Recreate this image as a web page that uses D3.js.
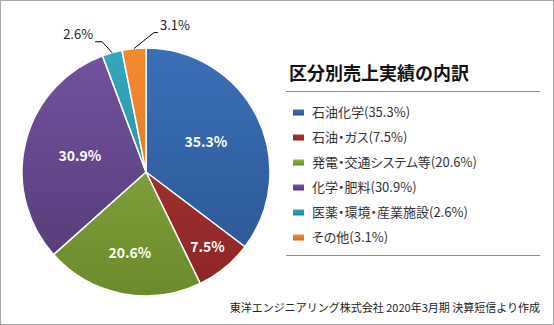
<!DOCTYPE html>
<html><head><meta charset="utf-8">
<script src="https://cdn.jsdelivr.net/npm/d3@7"></script>
<style>
html,body{margin:0;padding:0;background:#fff;}
svg{display:block;font-family:"Noto Sans CJK JP","Noto Sans",sans-serif;}
.legend text{font-feature-settings:"palt";}
</style></head>
<body>
<svg id="chart" width="554" height="325"></svg>
<script>
const categories = ["石油化学","石油・ガス","発電・交通システム等","化学・肥料","医薬・環境・産業施設","その他"];
const values = [35.3, 7.5, 20.6, 30.9, 2.6, 3.1];
const colorsTop = ["#3a70b9","#b03535","#92b545","#74529f","#35a7c0","#f48a30"];
const colorsBottom = ["#2a548f","#8e2626","#6a8a2c","#523a75","#24849a","#d86f1a"];
const title = "区分別売上実績の内訳";
const source = "東洋エンジニアリング株式会社 2020年3月期 決算短信より作成";

const svg = d3.select("#chart");
const W = 554, H = 325;
svg.append("rect").attr("x",0.5).attr("y",0.5).attr("width",W-1).attr("height",H-1)
  .attr("fill","#fff").attr("stroke","#a6a6a6");

const cx = 146, cy = 172, R = 124;
const data = categories.map((c,i)=>({cat:c, value:values[i], i}));
const pie = d3.pie().value(d=>d.value).sort(null);
const arcs = pie(data);
const arc = d3.arc().innerRadius(0).outerRadius(R);

const defs = svg.append("defs");
data.forEach((d,i)=>{
  const g = defs.append("linearGradient").attr("id","g"+i)
    .attr("gradientUnits","userSpaceOnUse")
    .attr("x1",0).attr("y1",-R).attr("x2",0).attr("y2",R);
  g.append("stop").attr("offset","0%").attr("stop-color",colorsTop[i]);
  g.append("stop").attr("offset","100%").attr("stop-color",colorsBottom[i]);
  const lgd = defs.append("linearGradient").attr("id","lg"+i).attr("x1",0).attr("y1",0).attr("x2",0).attr("y2",1);
  lgd.append("stop").attr("offset","0%").attr("stop-color",colorsTop[i]);
  lgd.append("stop").attr("offset","100%").attr("stop-color",colorsBottom[i]);
});

const gp = svg.append("g").attr("transform",`translate(${cx},${cy})`);
gp.selectAll("path").data(arcs).enter().append("path")
  .attr("d",arc).attr("fill",d=>`url(#g${d.data.i})`)
  .attr("stroke","#fff").attr("stroke-width",1.5).attr("stroke-linejoin","round");

const fmt = v => v.toFixed(1)+"%";
// inside labels (radius fraction per slice, layout only)
const labelFrac = [0.54, 0.78, 0.67, 0.55];
arcs.forEach((a,k)=>{
  if (k>3) return;
  const la = d3.arc().innerRadius(R*labelFrac[k]).outerRadius(R*labelFrac[k]);
  const [x,y] = la.centroid(a);
  gp.append("text").attr("x",x).attr("y",y).attr("dy","0.35em")
    .attr("text-anchor","middle").attr("fill","#fff")
    .attr("font-weight","bold").attr("font-size",14)
    .text(fmt(a.data.value));
});
// outside labels with leader lines
const leaders = {4:{elbow:[-10,-11], end:-7, anchor:"end"}, 5:{elbow:[20,-16], end:4, anchor:"start"}};
[4,5].forEach(k=>{
  const a = arcs[k];
  const m = (a.startAngle+a.endAngle)/2;
  const px = R*Math.sin(m), py = -R*Math.cos(m);
  const L = leaders[k];
  const ex = px+L.elbow[0], ey = py+L.elbow[1];
  const tx = ex+L.end;
  gp.append("polyline").attr("points",`${px},${py} ${ex},${ey} ${tx},${ey}`)
    .attr("fill","none").attr("stroke","#000").attr("stroke-width",1);
  gp.append("text").attr("x", tx + (L.anchor==="end"?-2:2)).attr("y",ey-3)
    .attr("text-anchor",L.anchor).attr("font-size",13).attr("fill","#222")
    .text(fmt(a.data.value));
});

// title & legend
svg.append("text").attr("x",289).attr("y",80).attr("font-size",18).attr("font-weight","bold")
  .attr("fill","#111").text(title);
svg.append("line").attr("x1",286).attr("x2",540).attr("y1",91.5).attr("y2",91.5).attr("stroke","#8c8c8c").attr("stroke-width",1.2);
svg.append("line").attr("x1",286).attr("x2",540).attr("y1",255.5).attr("y2",255.5).attr("stroke","#8c8c8c").attr("stroke-width",1.2);

const ly = d3.scaleBand().domain(categories).range([100,250]).padding(0);
const lg = svg.append("g").attr("class","legend");
data.forEach((d,i)=>{
  const y = ly(d.cat)+ly.bandwidth()/2;
  lg.append("rect").attr("x",293).attr("y",y-3).attr("width",11).attr("height",6)
    .attr("fill",`url(#lg${i})`);
  lg.append("text").attr("x",312).attr("y",y).attr("dy","0.36em").attr("font-size",13)
    .attr("fill","#333").text(`${d.cat}(${fmt(d.value)})`);
});

svg.append("text").attr("x",540).attr("y",312).attr("text-anchor","end").attr("font-size",11)
  .attr("fill","#222").text(source);
</script>
</body></html>
